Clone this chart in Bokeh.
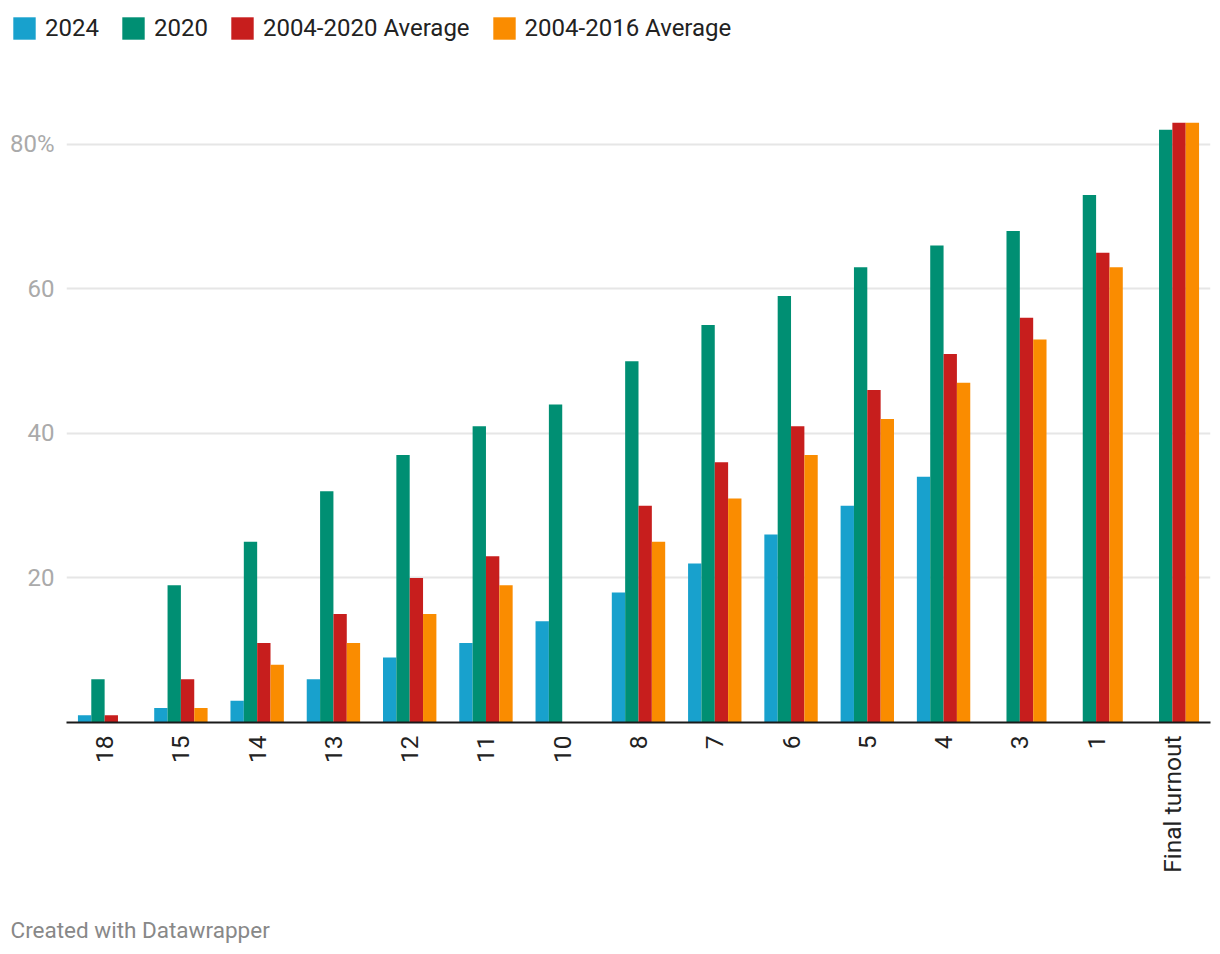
import math
from bokeh.plotting import figure
from bokeh.models import ColumnDataSource, FactorRange, Range1d, FixedTicker, Legend, LegendItem, Label
from bokeh.transform import dodge
from bokeh.embed import file_html
from bokeh.resources import INLINE

nan = float("nan")

categories = ["18", "15", "14", "13", "12", "11", "10", "8", "7", "6", "5", "4", "3", "1", "Final turnout"]
s2024 = [1, 2, 3, 6, 9, 11, 14, 18, 22, 26, 30, 34, nan, nan, nan]
s2020 = [6, 19, 25, 32, 37, 41, 44, 50, 55, 59, 63, 66, 68, 73, 82]
avg_2004_2020 = [1, 6, 11, 15, 20, 23, nan, 30, 36, 41, 46, 51, 56, 65, 83]
avg_2004_2016 = [nan, 2, 8, 11, 15, 19, nan, 25, 31, 37, 42, 47, 53, 63, 83]
series_names = ["2024", "2020", "2004-2020 Average", "2004-2016 Average"]
series_colors = ["#18a1cd", "#008f73", "#c71e1d", "#fa8c00"]
y_ticks = [20, 40, 60, 80]

FONT = "Roboto"
W = 1212


def blank(height):
    f = figure(width=W, height=height, x_range=Range1d(0, 1), y_range=Range1d(0, 1),
               output_backend="svg", toolbar_location=None,
               x_axis_location=None, y_axis_location=None,
               min_border=0, min_border_left=0, min_border_right=0,
               min_border_top=0, min_border_bottom=0)
    f.outline_line_color = None
    f.grid.visible = False
    return f


# ---------- legend strip ----------
lg = blank(60)
offscreen = ColumnDataSource(dict(x=[5], top=[5]))
lg_items = []
for n, c in zip(series_names, series_colors):
    r = lg.vbar(x="x", top="top", width=0.1, source=offscreen, fill_color=c, line_color=None)
    lg_items.append(LegendItem(label=n, renderers=[r]))
legend = Legend(
    items=lg_items,
    orientation="horizontal",
    location=(10, 18),
    glyph_width=28, glyph_height=28,
    label_height=28,
    label_standoff=7,
    spacing=20,
    padding=0, margin=0,
    border_line_color=None,
    background_fill_alpha=0,
    label_text_font=FONT,
    label_text_font_size="24px",
    label_text_color="#222222",
)
lg.add_layout(legend, "center")

# ---------- main chart ----------
src = ColumnDataSource(dict(cat=categories, a=s2024, b=s2020, c=avg_2004_2020, d=avg_2004_2016))

p = figure(
    width=W, height=840,
    x_range=FactorRange(*categories, range_padding=0),
    y_range=Range1d(0, 88),
    output_backend="svg", toolbar_location=None,
    min_border_left=66, min_border_right=2, min_border_top=26, min_border_bottom=178,
)
p.outline_line_color = None

w = 0.175
cols = ["a", "b", "c", "d"]
offsets = [-1.5 * w, -0.5 * w, 0.5 * w, 1.5 * w]
for col, off, color in zip(cols, offsets, series_colors):
    p.vbar(x=dodge("cat", off, range=p.x_range), top=col, width=w, bottom=0,
           source=src, fill_color=color, line_color=None)

p.xgrid.grid_line_color = None
p.ygrid.ticker = FixedTicker(ticks=y_ticks)
p.ygrid.grid_line_color = "#e6e6e6"
p.ygrid.grid_line_width = 2

p.yaxis.ticker = FixedTicker(ticks=y_ticks)
p.yaxis.major_label_overrides = {80: "80%"}
p.yaxis.axis_line_color = None
p.yaxis.major_tick_line_color = None
p.yaxis.minor_tick_line_color = None
p.yaxis.major_label_text_font = FONT
p.yaxis.major_label_text_font_size = "24px"
p.yaxis.major_label_text_color = "#aaaaaa"
p.yaxis.major_label_standoff = 6

p.xaxis.axis_line_color = "#1a1a1a"
p.xaxis.axis_line_width = 2
p.xaxis.major_tick_line_color = None
p.xaxis.major_tick_out = 0
p.xaxis.major_label_orientation = math.pi / 2
p.xaxis.major_label_text_font = FONT
p.xaxis.major_label_text_font_size = "24.5px"
p.xaxis.major_label_text_color = "#222222"
p.xaxis.major_label_standoff = 13

# ---------- footer strip ----------
ft = blank(46)
ft.add_layout(Label(x=10, y=17, x_units="screen", y_units="screen",
                    text="Created with Datawrapper", text_font=FONT,
                    text_font_size="22.5px", text_color="#888888", text_baseline="middle"))

open("out.html", "w").write(file_html([lg, p, ft], INLINE))
